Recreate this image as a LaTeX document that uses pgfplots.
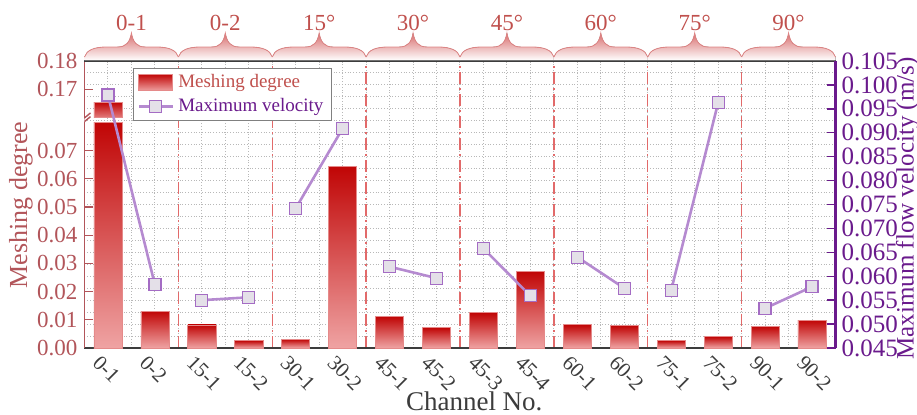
\documentclass[border=0pt]{standalone}
\usepackage{pgfplots}
\pgfplotsset{compat=1.18}
\usepackage{fontspec}
\setmainfont{Liberation Serif}
\definecolor{barTop}{HTML}{C00505}
\definecolor{barBot}{HTML}{EFA3A3}
\definecolor{barMid}{HTML}{E27A7A}
\definecolor{barEdge}{HTML}{E58A8A}
\definecolor{leftC}{HTML}{B2555A}
\definecolor{rightC}{HTML}{6A1A8C}
\definecolor{lineC}{HTML}{B58AD0}
\definecolor{markE}{HTML}{A46CC4}
\definecolor{markF}{HTML}{E4E0E8}
\definecolor{sepC}{HTML}{E26A6A}
\definecolor{headC}{HTML}{C0504D}
\definecolor{braceC}{HTML}{D86E6E}
\definecolor{axC}{HTML}{3C3C3C}
\pgfplotsset{base/.style={scale only axis, width=375.5pt, height=143.5pt,
  xmin=-0.5, xmax=15.5, at={(0,0)}, anchor=south west},
  mybar/.style={ybar, bar width=0.6, bar shift=0pt, top color=barTop, bottom color=barBot, draw=barEdge, line width=0.3pt}}
\begin{document}
\begin{tikzpicture}
\useasboundingbox (-42.25pt,-33pt) rectangle (416.25pt,174pt);
% grid axis (right scale)
\begin{axis}[base, ymin=0.045, ymax=0.105,
  ytick={0.045,0.05,0.055,0.06,0.065,0.07,0.075,0.08,0.085,0.09,0.095,0.1,0.105},
  minor y tick num=1, xtick={0,...,15}, minor x tick num=1,
  xmajorgrids, xminorgrids, ymajorgrids, yminorgrids,
  grid style={densely dotted, line width=0.5pt, black!28},
  axis line style={draw=none}, tick style={draw=none},
  yticklabels={}, xticklabels={},
  extra x ticks={1.5,3.5,5.5,7.5,9.5,11.5,13.5}, extra x tick labels={},
  extra x tick style={grid=major, major grid style={sepC, dash pattern=on 6pt off 2pt on 1pt off 2pt, line width=0.7pt}}]
\addplot[draw=none] coordinates {(0,0.05)};
\end{axis}
% bars (left, broken scale: values above 0.16 shifted down by 0.0782)
\begin{axis}[base, ymin=0, ymax=0.1018,
  axis y line*=left, axis x line*=bottom,
  ytick={0,0.01,0.02,0.03,0.04,0.05,0.06,0.07,0.0918,0.1018},
  yticklabels={0.00,0.01,0.02,0.03,0.04,0.05,0.06,0.07,0.17,0.18},
  xtick={0,...,15},
  xticklabels={0-1,0-2,15-1,15-2,30-1,30-2,45-1,45-2,45-3,45-4,60-1,60-2,75-1,75-2,90-1,90-2},
  tick align=inside, major tick length=4pt,
  y axis line style={leftC, line width=0.8pt, -},
  x axis line style={axC, line width=1.1pt, -},
  ytick style={leftC, line width=0.6pt},
  xtick style={axC, line width=0.8pt},
  yticklabel style={text=leftC, font=\fontsize{11.5}{12}\selectfont},
  x tick label style={text=axC, rotate=-45, anchor=north west, xshift=-3.5pt, yshift=-1pt, font=\fontsize{10.5}{11}\selectfont},
  ylabel={Meshing degree},
  ylabel style={text=leftC, font=\fontsize{13}{14}\selectfont, at={(axis description cs:-0.0846,0.498)}, anchor=center},
  xlabel={Channel No.},
  xlabel style={text=axC, font=\fontsize{13.5}{14}\selectfont, at={(axis description cs:0.519,-0.185)}, anchor=center}]
\addplot[mybar] coordinates {(0,0.0801)};
\addplot[mybar] coordinates {(1,0.0131)};
\addplot[mybar] coordinates {(2,0.0082)};
\addplot[mybar] coordinates {(3,0.0026)};
\addplot[mybar] coordinates {(4,0.0031)};
\addplot[mybar] coordinates {(5,0.0645)};
\addplot[mybar] coordinates {(6,0.0111)};
\addplot[mybar] coordinates {(7,0.0072)};
\addplot[mybar] coordinates {(8,0.0125)};
\addplot[mybar] coordinates {(9,0.0272)};
\addplot[mybar] coordinates {(10,0.0083)};
\addplot[mybar] coordinates {(11,0.0079)};
\addplot[mybar] coordinates {(12,0.0026)};
\addplot[mybar] coordinates {(13,0.0040)};
\addplot[mybar] coordinates {(14,0.0076)};
\addplot[mybar] coordinates {(15,0.0099)};
% upper part of the broken 0-1 bar (0.16 to 0.1655)
\addplot[top color=barTop, bottom color=barMid, draw=barEdge, line width=0.3pt]
 coordinates {(-0.3,0.0818) (-0.3,0.0872) (0.3,0.0872) (0.3,0.0818)} -- cycle;
\draw[white, line width=2pt] (axis cs:-0.5,0.0803) -- (axis cs:-0.5,0.0816);
\draw[leftC, line width=0.7pt] (axis cs:-0.5,0.0803) ++(-3pt,-2.5pt) -- ++(6pt,5pt);
\draw[leftC, line width=0.7pt] (axis cs:-0.5,0.0816) ++(-3pt,-2.5pt) -- ++(6pt,5pt);
\end{axis}
% velocity (right)
\begin{axis}[base, ymin=0.045, ymax=0.105,
  axis y line*=right, axis x line*=top, xtick=\empty,
  ytick={0.045,0.05,0.055,0.06,0.065,0.07,0.075,0.08,0.085,0.09,0.095,0.1,0.105},
  tick align=inside, major tick length=4pt,
  y axis line style={rightC, line width=1.1pt, -},
  x axis line style={axC, line width=1.1pt, -},
  ytick style={rightC, line width=0.7pt},
  /pgf/number format/assume math mode=true,
  yticklabel style={text=rightC, font=\fontsize{12.5}{14}\selectfont, xshift=-0.5pt,
    /pgf/number format/fixed, /pgf/number format/fixed zerofill, /pgf/number format/precision=3},
  ylabel={Maximum flow velocity (m/s)},
  ylabel style={text=rightC, font=\fontsize{12.5}{14}\selectfont, at={(axis description cs:1.096,0.486)}, anchor=center},
  unbounded coords=jump,
  legend style={at={(0.0646,0.9756)}, anchor=north west, draw=black!50, line width=0.5pt,
    font=\fontsize{9.5}{11}\selectfont, row sep=0pt, inner xsep=2pt, inner ysep=1pt, cells={anchor=west}}]
\addlegendimage{legend image code/.code={\fill[top color=barTop, bottom color=barBot, draw=barEdge] (0pt,-4.2pt) rectangle (17pt,4.2pt);}}
\addlegendentry{\textcolor{headC}{Meshing degree}}
\addplot[lineC, line width=1.3pt, mark=square*, mark size=3pt, mark options={draw=markE, fill=markF, line width=0.6pt}]
 coordinates {(0,0.0979) (1,0.0582) (1.5,nan) (2,0.0550) (3,0.0556) (3.5,nan)
   (4,0.0742) (5,0.0909) (5.5,nan) (6,0.0620) (7,0.0596) (7.5,nan)
   (8,0.0658) (9,0.0559) (9.5,nan) (10,0.0640) (11,0.0575) (11.5,nan)
   (12,0.0571) (13,0.0963) (13.5,nan) (14,0.0533) (15,0.0578)};
\addlegendentry{\textcolor{rightC}{Maximum velocity}}
\end{axis}
% group braces and headers
\begin{scope}[x=1pt,y=1pt]
\foreach \i/\lab in {0/0-1,1/0-2,2/15°,3/30°,4/45°,5/60°,6/75°,7/90°} {
  \pgfmathsetmacro\L{46.9375*\i}
  \pgfmathsetmacro\R{46.9375*(\i+1)}
  \pgfmathsetmacro\C{46.9375*(\i+0.5)}
  \fill[top color=braceC, bottom color=white]
    (\L,143.8) -- (\L,145.5) .. controls (\L+1,149) and (\L+5,150.5) .. (\L+11,150.5)
    -- (\C-7,150.5) .. controls (\C-2.5,150.5) and (\C-0.8,153) .. (\C,157.5)
    .. controls (\C+0.8,153) and (\C+2.5,150.5) .. (\C+7,150.5)
    -- (\R-11,150.5) .. controls (\R-5,150.5) and (\R-1,149) .. (\R,145.5) -- (\R,143.8) -- cycle;
  \draw[braceC!85!white, line width=0.4pt]
    (\L,145.5) .. controls (\L+1,149) and (\L+5,150.5) .. (\L+11,150.5)
    -- (\C-7,150.5) .. controls (\C-2.5,150.5) and (\C-0.8,153) .. (\C,157.5)
    .. controls (\C+0.8,153) and (\C+2.5,150.5) .. (\C+7,150.5)
    -- (\R-11,150.5) .. controls (\R-5,150.5) and (\R-1,149) .. (\R,145.5);
  \node[anchor=base, text=headC, font=\fontsize{11.5}{12}\selectfont, inner sep=0pt] at (\C,159) {\lab};
}
\end{scope}
\end{tikzpicture}
\end{document}
